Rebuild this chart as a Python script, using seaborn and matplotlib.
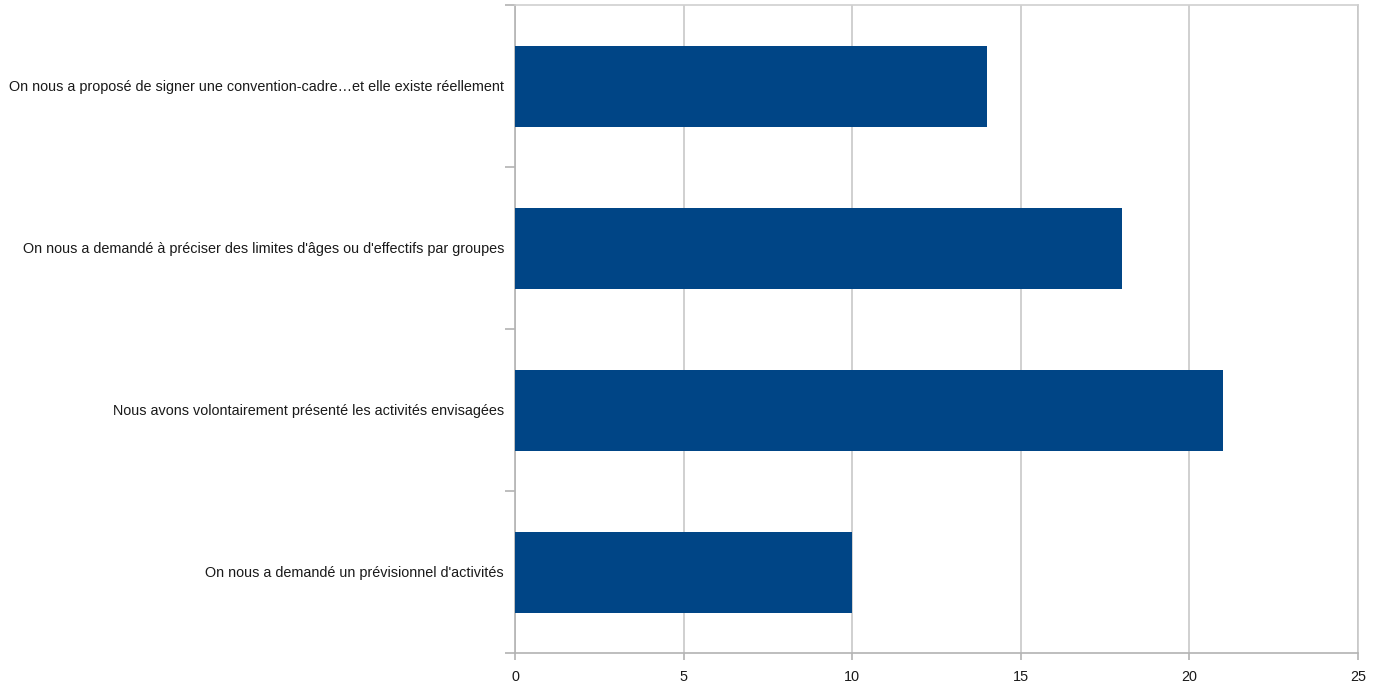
import matplotlib
matplotlib.use("Agg")
import matplotlib.pyplot as plt
import pandas as pd
import seaborn as sns

# Data
categories = [
    "On nous a proposé de signer une convention-cadre…et elle existe réellement",
    "On nous a demandé à préciser des limites d'âges ou d'effectifs par groupes",
    "Nous avons volontairement présenté les activités envisagées",
    "On nous a demandé un prévisionnel d'activités",
]
counts = [14, 18, 21, 10]
x_ticks = [0, 5, 10, 15, 20, 25]

df = pd.DataFrame({"categorie": categories, "nombre": counts})

sns.set_theme(style="white")
plt.rcParams["font.family"] = ["Liberation Sans", "DejaVu Sans"]

fig = plt.figure(figsize=(13.86, 6.86), dpi=100)
ax = fig.add_axes([515 / 1386, 1 - 653 / 686, (1358 - 515) / 1386, (653 - 5) / 686])

sns.barplot(data=df, x="nombre", y="categorie", orient="h", color="#004586",
            saturation=1, width=0.5, linewidth=0, ax=ax, zorder=3)

grid_col = "#c8c8c8"
axis_col = "#b3b3b3"
ax.set_xlim(0, 25)
ax.set_xticks(x_ticks)
ax.set_xticklabels([str(t) for t in x_ticks])
ax.set_ylim(len(categories) - 0.5, -0.5)
ax.xaxis.grid(True, color=grid_col, linewidth=1.2, zorder=0)
ax.set_axisbelow(True)
ax.set_xlabel("")
ax.set_ylabel("")

# category labels at centres, tick marks at boundaries
ax.set_yticks(range(len(categories)))
ax.set_yticklabels(categories)
ax.set_yticks([i - 0.5 for i in range(len(categories) + 1)], minor=True)
ax.tick_params(axis="y", which="major", length=0, pad=8, labelsize=10.4, labelcolor="#1a1a1a")
ax.tick_params(axis="y", which="minor", left=True, length=7, width=1.2, color=axis_col)
ax.tick_params(axis="x", which="major", bottom=True, length=5, width=1.2, color=axis_col,
               pad=7, labelsize=10.4, labelcolor="#1a1a1a")

for side in ["left", "bottom", "top", "right"]:
    ax.spines[side].set_visible(True)
    ax.spines[side].set_linewidth(1.2)
ax.spines["left"].set_color(axis_col)
ax.spines["bottom"].set_color(axis_col)
ax.spines["top"].set_color("#d0d0d0")
ax.spines["right"].set_color(grid_col)

fig.savefig("out.png", dpi=100, facecolor="white")
